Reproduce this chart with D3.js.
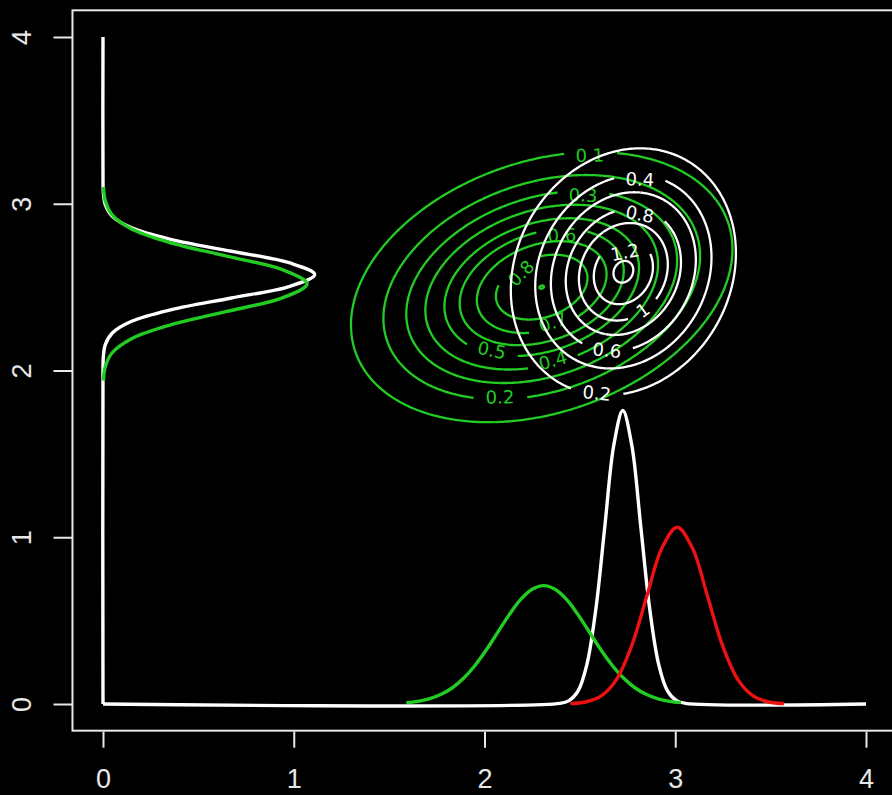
<!DOCTYPE html>
<html>
<head>
<meta charset="UTF-8">
<title>Marginal densities and contours</title>
<script src="https://cdn.jsdelivr.net/npm/d3@7"></script>
<style>
  body { margin: 0; background: #000; }
</style>
</head>
<body>
<div id="chart"></div>
<script>
// ---- data ----
var xTicks = [0, 1, 2, 3, 4];
var yTicks = [0, 1, 2, 3, 4];

// densities along the x axis
var greenBottomX = [1.59, 1.65, 1.71, 1.77, 1.83, 1.89, 1.95, 2.01, 2.07, 2.13, 2.19, 2.25, 2.31, 2.37, 2.43, 2.49, 2.55, 2.61, 2.67, 2.73, 2.79, 2.85, 2.91, 2.97, 3.03];
var greenBottomY = [0.008, 0.016, 0.031, 0.057, 0.096, 0.154, 0.231, 0.325, 0.431, 0.536, 0.627, 0.688, 0.710, 0.688, 0.627, 0.536, 0.431, 0.325, 0.231, 0.154, 0.096, 0.057, 0.031, 0.016, 0.008];
var whiteBottomX = [0, 2.396, 2.443, 2.49, 2.537, 2.584, 2.631, 2.678, 2.725, 2.772, 2.819, 2.866, 2.913, 2.96, 3.007, 3.054, 4];
var whiteBottomY = [0, 0.004, 0.020, 0.077, 0.238, 0.571, 1.067, 1.553, 1.76, 1.553, 1.067, 0.571, 0.238, 0.077, 0.020, 0.004, 0];
var redBottomX = [2.45, 2.53, 2.61, 2.69, 2.77, 2.85, 2.93, 3.01, 3.09, 3.17, 3.25, 3.33, 3.41, 3.49, 3.57];
var redBottomY = [0.002, 0.012, 0.047, 0.143, 0.344, 0.643, 0.935, 1.06, 0.935, 0.643, 0.344, 0.143, 0.047, 0.012, 0.002];

// densities along the y axis (x = density, y = value)
var whiteLeftX = [0, 0, 0.002, 0.012, 0.049, 0.150, 0.360, 0.673, 0.980, 1.11, 0.980, 0.673, 0.360, 0.150, 0.049, 0.012, 0.002, 0, 0];
var whiteLeftY = [0, 2.015, 2.085, 2.155, 2.225, 2.295, 2.365, 2.435, 2.505, 2.575, 2.645, 2.715, 2.785, 2.855, 2.925, 2.995, 3.065, 3.135, 4];
var greenLeftX = [0.002, 0.012, 0.047, 0.145, 0.347, 0.649, 0.944, 1.07, 0.944, 0.649, 0.347, 0.145, 0.047, 0.012, 0.002];
var greenLeftY = [1.939, 2.022, 2.105, 2.188, 2.271, 2.354, 2.437, 2.52, 2.603, 2.686, 2.769, 2.852, 2.935, 3.018, 3.101];

// contour ellipses: centre, spread (x, y), tilt, and one radius per level
var greenCentre = [2.30, 2.50];
var greenSpread = [1, 0.81];
var greenRho = 0.28;
var greenLevels = [0.1, 0.2, 0.3, 0.4, 0.5, 0.6, 0.7, 0.8, 0.9];
var greenRadii = [1.0, 0.83, 0.71, 0.61, 0.51, 0.43, 0.34, 0.24, 0.012];
var greenLabelLevels = [0.1, 0.2, 0.3, 0.4, 0.5, 0.6, 0.7, 0.8];
var greenLabelX = [2.552, 2.081, 2.516, 2.358, 2.039, 2.406, 2.358, 2.191];
var greenLabelY = [3.291, 1.841, 3.052, 2.062, 2.122, 2.812, 2.290, 2.584];
var greenLabelAngle = [null, null, null, null, null, null, null, -45];

var whiteCentre = [2.728, 2.592];
var whiteSpread = [1, 1.255];
var whiteRho = 0.15;
var whiteLevels = [0.2, 0.4, 0.6, 0.8, 1, 1.2, 1.4];
var whiteRadii = [0.59, 0.462, 0.38, 0.302, 0.233, 0.155, 0.052];
var whiteLabelLevels = [0.2, 0.4, 0.6, 0.8, 1, 1.2];
var whiteLabelX = [2.589, 2.815, 2.642, 2.815, 2.830, 2.736];
var whiteLabelY = [1.865, 3.147, 2.122, 2.938, 2.362, 2.710];
var whiteLabelAngle = [null, null, null, null, null, null];

// ---- drawing ----
var W = 892, H = 795;
var GREEN = "#22cc22", RED = "#ee1111", WHITE = "#ffffff", FRAME = "#e8e8e8";
var AXIS_FONT = "'Liberation Sans', Arial, Helvetica, sans-serif";

var x = d3.scaleLinear().domain([0, 4]).range([103, 866]);
var y = d3.scaleLinear().domain([0, 4]).range([704, 37]);

var svg = d3.select("#chart").append("svg")
        .attr("width", W)
        .attr("height", H)
        .style("background", "#000");

svg.append("rect")
        .attr("x", x(-0.16))
        .attr("y", y(4.16))
        .attr("width", x(4.16) - x(-0.16))
        .attr("height", y(-0.16) - y(4.16))
        .attr("fill", "none")
        .attr("stroke", FRAME)
        .attr("stroke-width", 2);

// x axis
var gx = svg.append("g")
        .attr("transform", "translate(0," + y(-0.16) + ")")
        .call(d3.axisBottom(x).tickValues(xTicks).tickSize(17).tickFormat(d3.format("d")));
gx.attr("font-size", 27).attr("font-family", AXIS_FONT);
gx.select(".domain").remove();
gx.selectAll(".tick line").attr("stroke", FRAME).attr("stroke-width", 2).attr("y1", 1);
gx.selectAll(".tick text")
        .attr("fill", FRAME)
        .attr("y", 57)
        .attr("dy", null);

// y axis
var gy = svg.append("g")
        .attr("transform", "translate(" + x(-0.16) + ",0)")
        .call(d3.axisLeft(y).tickValues(yTicks).tickSize(19).tickFormat(d3.format("d")));
gy.attr("font-size", 27).attr("font-family", AXIS_FONT);
gy.select(".domain").remove();
gy.selectAll(".tick line").attr("stroke", FRAME).attr("stroke-width", 2);
gy.selectAll(".tick text")
        .attr("fill", FRAME)
        .attr("x", null)
        .attr("dy", null)
        .attr("text-anchor", "middle")
        .attr("transform", "translate(-41,0) rotate(-90)");

//-----------------------------------------
function pairs(xs, ys) {
    return xs.map(function (v, i) { return [v, ys[i]]; });
}

var curve = d3.line()
        .x(function (d) { return x(d[0]); })
        .y(function (d) { return y(d[1]); })
        .curve(d3.curveCatmullRom.alpha(0.5));

var plain = d3.line();

function ellipse(centre, spread, rho, r, n) {
    var pts = [], s = Math.sqrt(1 - rho * rho);
    for (var i = 0; i < n; i++) {
        var t = 2 * Math.PI * i / n;
        var dx = r * spread[0] * Math.cos(t);
        var dy = r * spread[1] * (rho * Math.cos(t) + s * Math.sin(t));
        pts.push([x(centre[0] + dx), y(centre[1] + dy)]);
    }
    return pts;
}

function drawContours(g, colour, centre, spread, rho, levels, radii, labLevels, labX, labY, labAngle) {
    var n = 480;
    levels.forEach(function (lev, li) {
        var pts = ellipse(centre, spread, rho, radii[li], n);
        var k = labLevels.indexOf(lev);
        if (k < 0) {
            g.append("path")
                    .attr("d", plain(pts) + "Z")
                    .attr("fill", "none")
                    .attr("stroke", colour)
                    .attr("stroke-width", 2.3);
            return;
        }
        var lx = x(labX[k]), ly = y(labY[k]);
        var txt = g.append("text")
                .attr("x", 0).attr("y", 0)
                .attr("dy", "0.36em")
                .attr("text-anchor", "middle")
                .attr("fill", colour)
                .attr("font-size", 18)
                .attr("font-family", "'DejaVu Sans', sans-serif")
                .text(String(lev));
        var w = txt.node().getComputedTextLength();
        var gap = w / 2 + 11;

        // nearest sample gives the line direction at the label
        var best = 0, bd = Infinity;
        pts.forEach(function (p, i) {
            var d = Math.hypot(p[0] - lx, p[1] - ly);
            if (d < bd) { bd = d; best = i; }
        });
        var a = labAngle[k];
        if (a === null) {
            var p0 = pts[(best - 3 + n) % n], p1 = pts[(best + 3) % n];
            a = Math.atan2(p1[1] - p0[1], p1[0] - p0[0]) * 180 / Math.PI;
            if (a > 90) a -= 180;
            if (a < -90) a += 180;
        }
        txt.attr("transform", "translate(" + lx + "," + ly + ") rotate(" + a + ")");

        // walk round from the far side so the gap is one break
        var start = (best + n / 2) % n, seg = [], segs = [];
        for (var j = 0; j <= n; j++) {
            var p = pts[(start + j) % n];
            if (Math.hypot(p[0] - lx, p[1] - ly) > gap) {
                seg.push(p);
            } else if (seg.length) {
                segs.push(seg); seg = [];
            }
        }
        if (seg.length) segs.push(seg);
        segs.forEach(function (sg) {
            g.append("path")
                    .attr("d", plain(sg))
                    .attr("fill", "none")
                    .attr("stroke", colour)
                    .attr("stroke-width", 2.3);
        });
    });
}

drawContours(svg.append("g"), GREEN, greenCentre, greenSpread, greenRho, greenLevels, greenRadii,
        greenLabelLevels, greenLabelX, greenLabelY, greenLabelAngle);
drawContours(svg.append("g"), WHITE, whiteCentre, whiteSpread, whiteRho, whiteLevels, whiteRadii,
        whiteLabelLevels, whiteLabelX, whiteLabelY, whiteLabelAngle);

// density curves
var dens = svg.append("g").attr("fill", "none").attr("stroke-width", 3.4).attr("stroke-linejoin", "round");
dens.append("path").attr("d", curve(pairs(whiteLeftX, whiteLeftY))).attr("stroke", WHITE);
dens.append("path").attr("d", curve(pairs(whiteBottomX, whiteBottomY))).attr("stroke", WHITE);
dens.append("path").attr("d", curve(pairs(greenLeftX, greenLeftY))).attr("stroke", GREEN);
dens.append("path").attr("d", curve(pairs(greenBottomX, greenBottomY))).attr("stroke", GREEN);
dens.append("path").attr("d", curve(pairs(redBottomX, redBottomY))).attr("stroke", RED);
</script>
</body>
</html>
